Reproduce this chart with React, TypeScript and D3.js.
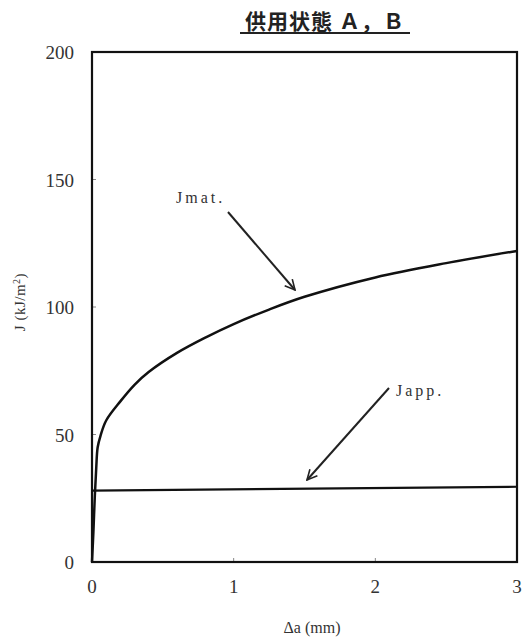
import React from "react";
import * as d3 from "d3";

const xTicks = [0, 1, 2, 3];
const yTicks = [0, 50, 100, 150, 200];
const jmatA = [0, 0.01, 0.02, 0.03, 0.04, 0.06, 0.1, 0.2, 0.3, 0.4, 0.6, 0.8, 1, 1.25, 1.5, 2, 2.5, 3];
const jmatJ = [0, 12, 26, 37, 45, 49.5, 55.5, 63, 69.5, 74.5, 82, 88, 93.3, 99, 104, 111.6, 117.2, 122];
const jappA = [0, 3];
const jappJ = [28, 29.5];

const W = 525, H = 644;
const left = 92, right = 517, top = 52, bottom = 562;

export default function App() {
  const x = d3.scaleLinear().domain([0, 3]).range([left, right]);
  const y = d3.scaleLinear().domain([0, 200]).range([bottom, top]);
  const line = d3.line<[number, number]>().x(d => x(d[0])).y(d => y(d[1])).curve(d3.curveCatmullRom.alpha(0.5));
  const jmat = jmatA.map((a, i) => [a, jmatJ[i]] as [number, number]);
  const japp = jappA.map((a, i) => [a, jappJ[i]] as [number, number]);
  const serif = "'Liberation Serif', 'DejaVu Serif', serif";
  return (
    <svg width={W} height={H} style={{ position: "absolute", left: 0, top: 0, background: "#fff" }}>
      <defs>
        <marker id="ah" viewBox="0 0 12 12" refX="11" refY="6" markerWidth="12" markerHeight="12" markerUnits="userSpaceOnUse" orient="auto">
          <path d="M1,1 L11,6 L1,11" fill="none" stroke="#222" strokeWidth="1.6" />
        </marker>
      </defs>
      <text x={325} y={29} textAnchor="middle" fontFamily="'Noto Sans CJK JP', sans-serif" fontSize={21} fontWeight={700} letterSpacing={1} fill="#222">供用状態  Ａ，Ｂ</text>
      <line x1={240} x2={410} y1={33} y2={33} stroke="#222" strokeWidth={2} />
      {yTicks.map(t => (
        <g key={"y" + t}>
          <line x1={left} x2={left + 4} y1={y(t)} y2={y(t)} stroke="#888" strokeWidth={1} />
          <text x={74} y={y(t) + 7} textAnchor="end" fontFamily={serif} fontSize={19} fill="#333">{t}</text>
        </g>
      ))}
      {xTicks.map(t => (
        <g key={"x" + t}>
          <line x1={x(t)} x2={x(t)} y1={bottom} y2={bottom - 4} stroke="#888" strokeWidth={1} />
          <text x={x(t)} y={593} textAnchor="middle" fontFamily={serif} fontSize={19} fill="#333">{t}</text>
        </g>
      ))}
      <rect x={left} y={top} width={right - left} height={bottom - top} fill="none" stroke="#111" strokeWidth={2.2} />
      <path d={line(jmat) || ""} fill="none" stroke="#111" strokeWidth={2.5} />
      <path d={line(japp) || ""} fill="none" stroke="#111" strokeWidth={2.2} />
      <text transform="translate(25,302) rotate(-90)" textAnchor="middle" fontFamily={serif} fontSize={15} letterSpacing={0.5} fill="#333">
        J (kJ/m<tspan dy={-5} fontSize={10}>2</tspan><tspan dy={5}>)</tspan>
      </text>
      <text x={312} y={633} textAnchor="middle" fontFamily={serif} fontSize={16} fill="#333">Δa  (mm)</text>
      <text x={176} y={203} fontFamily={serif} fontSize={16} letterSpacing={3} fill="#333">Jmat.</text>
      <line x1={228} y1={212} x2={295} y2={290} stroke="#222" strokeWidth={2} markerEnd="url(#ah)" />
      <text x={396} y={396} fontFamily={serif} fontSize={16} letterSpacing={3} fill="#333">Japp.</text>
      <line x1={389} y1={388} x2={307} y2={480} stroke="#222" strokeWidth={2} markerEnd="url(#ah)" />
    </svg>
  );
}
